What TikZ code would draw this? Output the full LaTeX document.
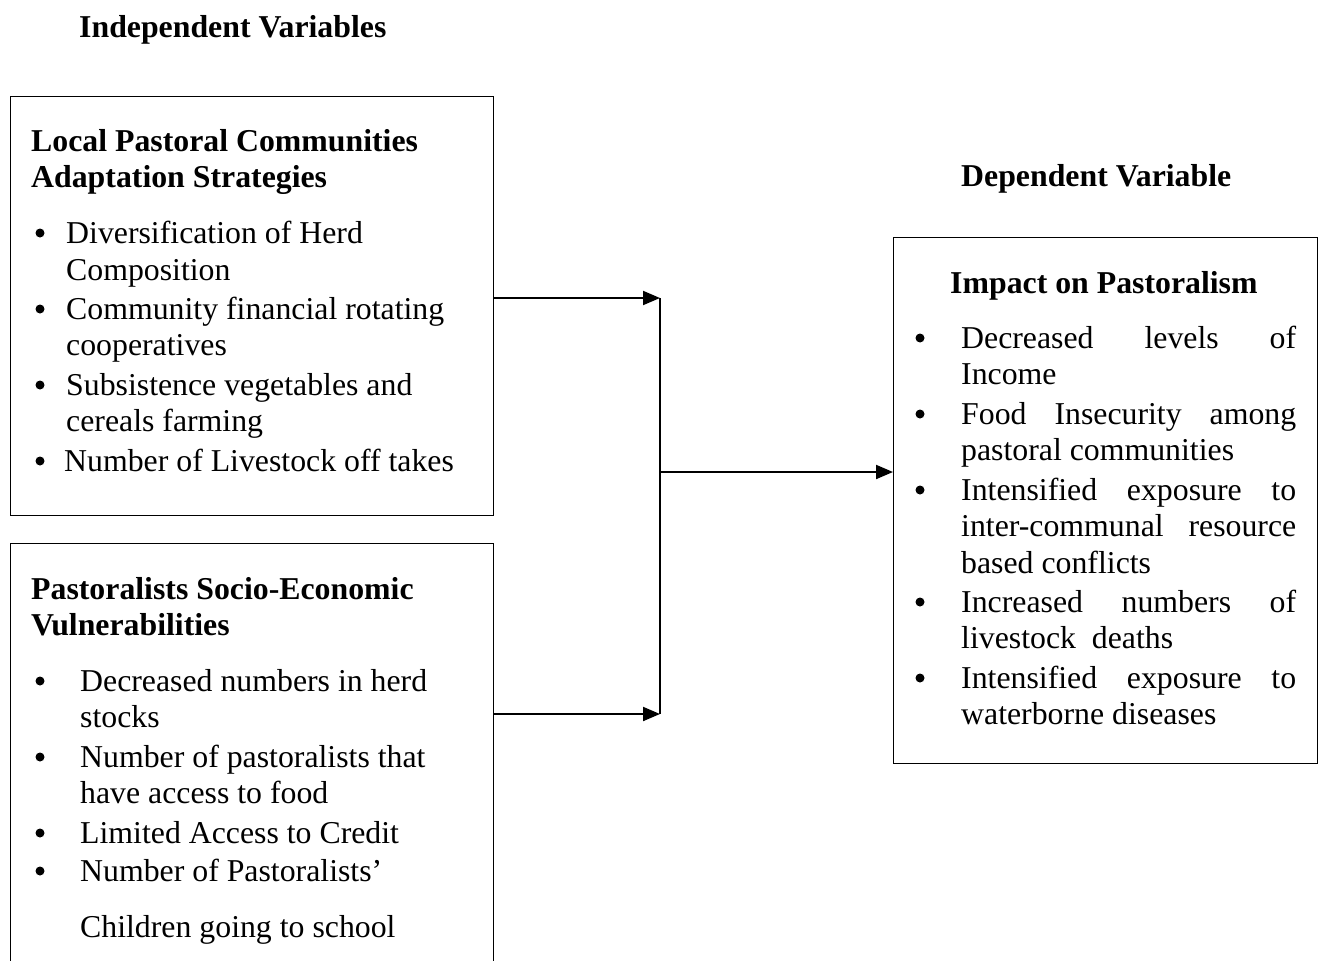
\documentclass[tikz,border=0pt]{standalone}
\usepackage{fontspec}
\setmainfont{Liberation Serif}
\usetikzlibrary{arrows.meta}
\tikzset{
  txt/.style={anchor=base west, inner sep=0pt, font=\fontsize{31.8}{36}\selectfont},
  hd/.style={txt, font=\fontsize{31.8}{36}\selectfont\bfseries},
  bul/.style={circle, fill, inner sep=0pt, minimum size=9pt, yshift=10pt},
  box/.style={draw, line width=1.4pt, anchor=north west, inner sep=0pt},
  arr/.style={line width=2pt, -{Triangle[length=17pt,width=14pt]}},
  ln/.style={line width=2pt}
}
\newcommand{\jst}[1]{\makebox[335pt][s]{#1}}
\begin{document}
\begin{tikzpicture}[x=1pt,y=-1pt]
\path[use as bounding box] (0,0) rectangle (1320,961);
\clip (0,0) rectangle (1320,961);
% boxes
\node[box, minimum width=483pt, minimum height=419pt] (b1) at (10,96) {};
\node[box, minimum width=483pt, minimum height=500pt] (b2) at (10,543) {};
\node[box, minimum width=424pt, minimum height=526pt] (b3) at (893,237) {};
% titles
\node[hd] (iv) at (79,37) {Independent Variables};
\node[hd] (dv) at (961,186) {Dependent Variable};
% box 1
\node[hd] (h1a) at (31,151) {Local Pastoral Communities};
\node[hd] (h1b) at (31,187) {Adaptation Strategies};
\node[bul] (p1) at (40,243) {};
\node[txt] (a1) at (66,243) {Diversification of Herd};
\node[txt] (a1b) at (66,280) {Composition};
\node[bul] (p2) at (40,319) {};
\node[txt] (a2) at (66,319) {Community financial rotating};
\node[txt] (a2b) at (66,355) {cooperatives};
\node[bul] (p3) at (40,395) {};
\node[txt] (a3) at (66,395) {Subsistence vegetables and};
\node[txt] (a3b) at (66,431) {cereals farming};
\node[bul] (p4) at (40,471) {};
\node[txt] (a4) at (64,471) {Number of Livestock off takes};
% box 2
\node[hd] (h2a) at (31,599) {Pastoralists Socio-Economic};
\node[hd] (h2b) at (31,635) {Vulnerabilities};
\node[bul] (q1) at (40,691) {};
\node[txt] (c1) at (80,691) {Decreased numbers in herd};
\node[txt] (c1b) at (80,727) {stocks};
\node[bul] (q2) at (40,767) {};
\node[txt] (c2) at (80,767) {Number of pastoralists that};
\node[txt] (c2b) at (80,803) {have access to food};
\node[bul] (q3) at (40,843) {};
\node[txt] (c3) at (80,843) {Limited Access to Credit};
\node[bul] (q4) at (40,881) {};
\node[txt] (c4) at (80,881) {Number of Pastoralists'};
\node[txt] (c4b) at (80,937) {Children going to school};
% box 3
\node[hd] (h3) at (950,293) {Impact on Pastoralism};
\node[bul] (r1) at (920,348) {};
\node[txt] (d1) at (961,348) {\jst{Decreased levels of}};
\node[txt] (d1b) at (961,384) {Income};
\node[bul] (r2) at (920,424) {};
\node[txt] (d2) at (961,424) {\jst{Food Insecurity among}};
\node[txt] (d2b) at (961,460) {pastoral communities};
\node[bul] (r3) at (920,500) {};
\node[txt] (d3) at (961,500) {\jst{Intensified exposure to}};
\node[txt] (d3b) at (961,536) {\jst{inter-communal resource}};
\node[txt] (d3c) at (961,573) {based conflicts};
\node[bul] (r4) at (920,612) {};
\node[txt] (d4) at (961,612) {\jst{Increased numbers of}};
\node[txt] (d4b) at (961,648) {livestock\ \ deaths};
\node[bul] (r5) at (920,688) {};
\node[txt] (d5) at (961,688) {\jst{Intensified exposure to}};
\node[txt] (d5b) at (961,724) {waterborne diseases};
% connectors
\coordinate (j1) at (660,298);
\coordinate (j2) at (660,714);
\coordinate (jm) at (660,472);
\draw[arr] (b1.east |- j1) -- (j1);
\draw[arr] (b2.east |- j2) -- (j2);
\draw[ln] (j1) -- (j2);
\draw[arr] (jm) -- (b3.west |- jm);
\end{tikzpicture}
\end{document}
